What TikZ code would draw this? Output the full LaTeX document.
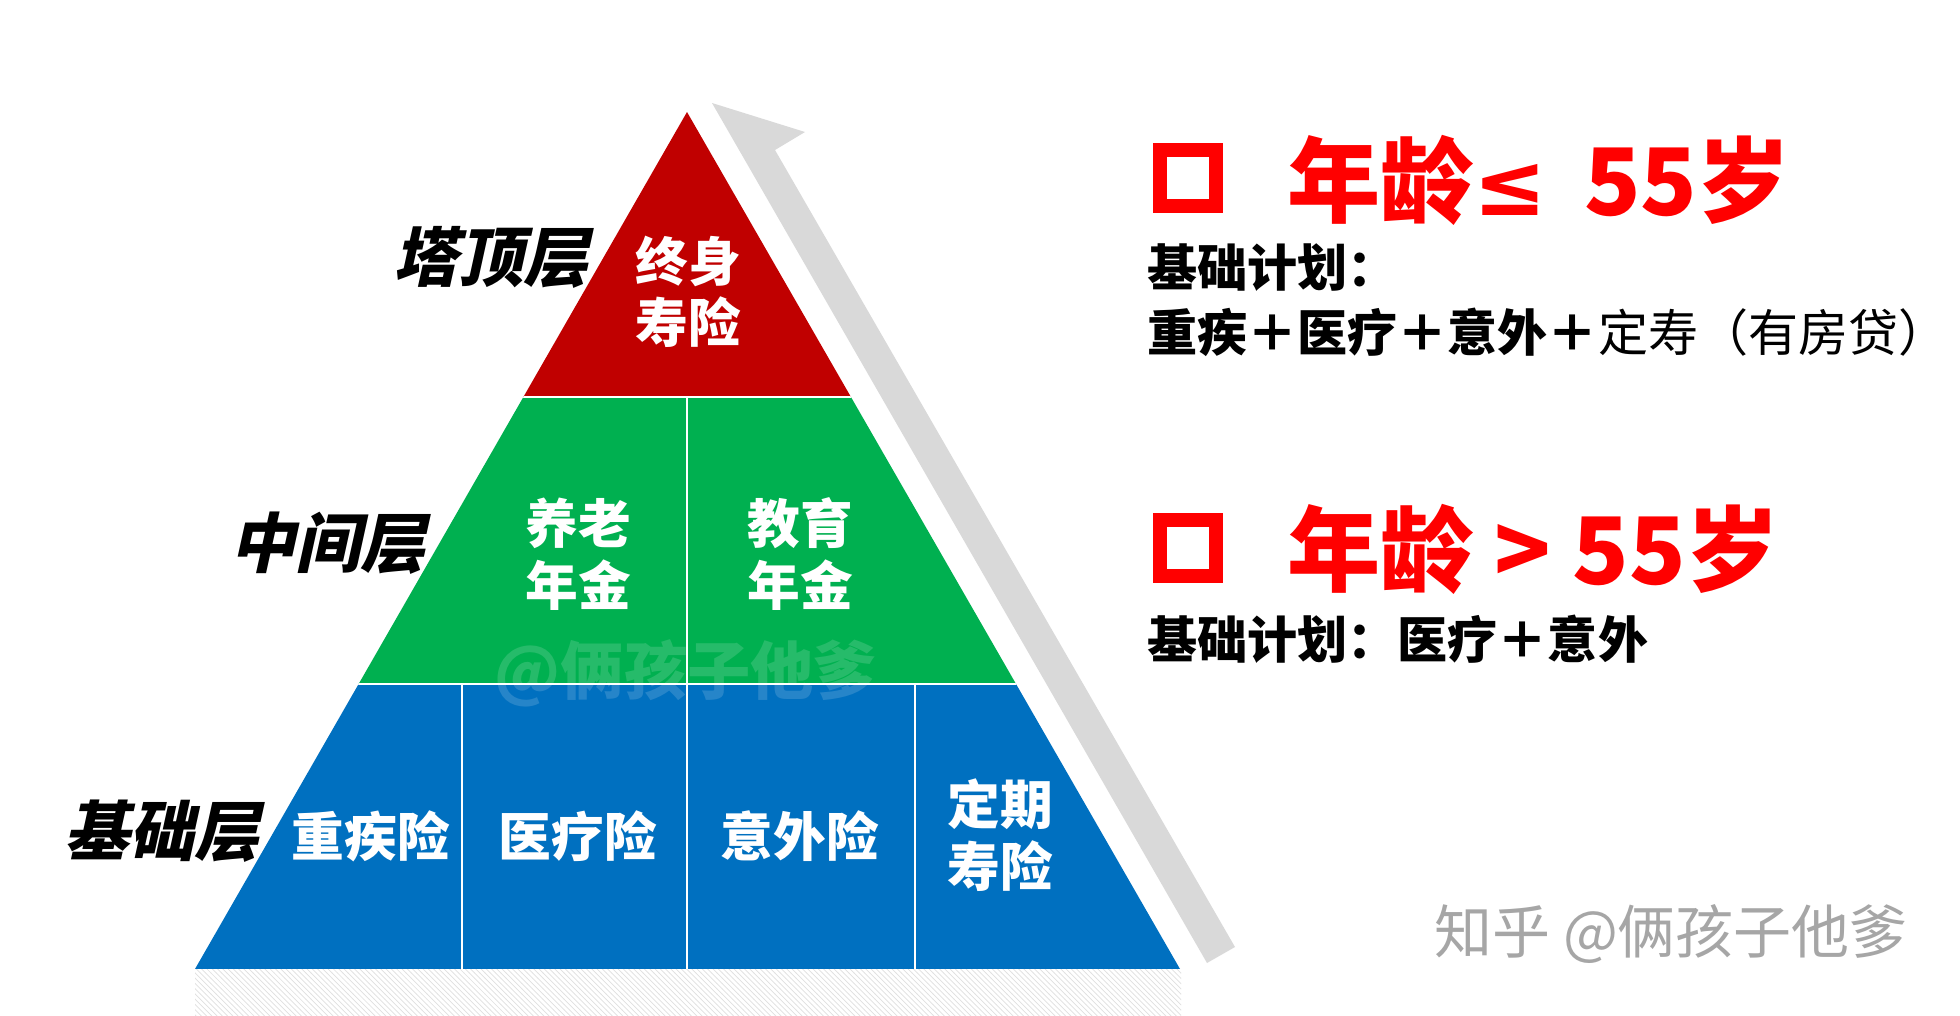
\documentclass[tikz,border=0pt]{standalone}
\usepackage{fontspec}
\usepackage{tikz}
\usetikzlibrary{patterns}
\newfontfamily\cjk{Noto Sans CJK SC}
\newfontfamily\cjkslant[FakeSlant=0.22,BoldFeatures={FakeSlant=0.22}]{Noto Sans CJK SC}
\newfontfamily\symfont{DejaVu Sans}
\definecolor{tipred}{HTML}{C00000}
\definecolor{midgreen}{HTML}{00B050}
\definecolor{baseblue}{HTML}{0070C0}
\definecolor{agered}{HTML}{FF0000}
\definecolor{risegray}{HTML}{D9D9D9}
\tikzstyle{Cell}=[text=white, align=center, inner sep=0pt, font=\cjk\bfseries\fontsize{30}{35}\selectfont]
\tikzstyle{Layer}=[inner sep=0pt, font=\cjkslant\bfseries\fontsize{37}{40}\selectfont]
\tikzstyle{Age}=[anchor=west, inner sep=0pt, text=agered, font=\cjk\bfseries\fontsize{53}{60}\selectfont]
\tikzstyle{Plan}=[anchor=west, inner sep=0pt, font=\cjk\bfseries\fontsize{28.5}{32}\selectfont]
\tikzstyle{Tick}=[draw=agered, line width=7.7pt, minimum size=32pt, inner sep=0pt]
\tikzstyle{Sep}=[white, line width=1.6pt]

\begin{document}
\begin{tikzpicture}[x=0.02cm, y=-0.02cm]
    \useasboundingbox[fill=white] (0,0) rectangle (1960,1015);

    % rising arrow and the shadow under the pyramid
    \fill[risegray] (712,103) -- (805,132) -- (775,150) -- (1235,947) -- (1207,963) -- cycle;
    \fill[pattern=north west lines, pattern color=black!12] (195,969) rectangle (1181,1015);

    \begin{scope}
    \clip (687,112) -- (1180,969) -- (195,969) -- cycle;
    \fill[tipred] (0,0) rectangle (1960,397);
    \fill[midgreen] (0,397) rectangle (1960,684);
    \fill[baseblue] (0,684) rectangle (1960,969);
    \draw[Sep] (0,397) -- (1960,397);
    \draw[Sep] (0,684) -- (1960,684);
    \draw[Sep] (687,397) -- (687,684);
    \draw[Sep] (462,684) -- (462,969) (687,684) -- (687,969) (915,684) -- (915,969);
    \end{scope}

    \path
    (688,292) node[Cell] (zsbx) {终身\\寿险}
    (578,554) node[Cell] (ylnj) {养老\\年金}
    (800,554) node[Cell] (jynj) {教育\\年金}
    (371,836) node[Cell] (zjx) {重疾险}
    (578,836) node[Cell] (ylx) {医疗险}
    (800,836) node[Cell] (ywx) {意外险}
    (1000,835) node[Cell] (dqsx) {定期\\寿险};

    \path
    (491,257) node[Layer] (top) {塔顶层}
    (328,543) node[Layer] (mid) {中间层}
    (162,831) node[Layer] (base) {基础层};

    \path
    (1188,178) node[Tick] (box1) {}
    (1287,180) node[Age] (young) {年龄{\symfont\fontsize{50}{50}\selectfont ≤}\, 55岁}
    (1147,268) node[Plan] (plan1) {基础计划：}
    (1147,332) node[Plan] (plan1b) {重疾＋医疗＋意外＋{\mdseries 定寿（有房贷）}}
    (1188,548) node[Tick] (box2) {}
    (1287,549) node[Age] (old) {年龄 > 55岁}
    (1147,639) node[Plan] (plan2) {基础计划：医疗＋意外};

    % watermarks
    \node[font=\cjk\bfseries\fontsize{36}{40}\selectfont, text=white, opacity=0.15, inner sep=0pt] (mark) at (686,673) {@俩孩子他爹};
    \node[font=\cjk\fontsize{33}{36}\selectfont, text=black!35, inner sep=0pt] (zhihu) at (1671,934) {知乎 @俩孩子他爹};
\end{tikzpicture}
\end{document}
